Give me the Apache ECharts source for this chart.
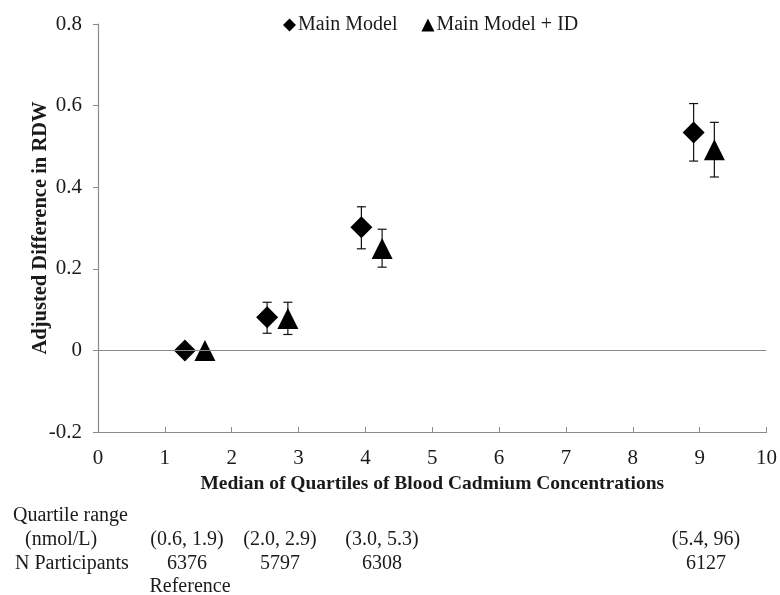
<!DOCTYPE html>
<html>
<head>
<meta charset="utf-8">
<script src="https://cdn.jsdelivr.net/npm/echarts@6/dist/echarts.min.js"></script>
<style>html,body{margin:0;padding:0;background:#fff}#c{width:780px;height:595px}</style>
</head>
<body>
<div id="c"></div>
<script>
// Data
const mainX = [1.30, 2.53, 3.94, 8.91];
const mainY = [0.0, 0.081, 0.302, 0.534];
const mainLo = [null, 0.042, 0.249, 0.464];
const mainHi = [null, 0.118, 0.352, 0.605];
const idX = [1.60, 2.84, 4.25, 9.22];
const idY = [0.0, 0.078, 0.250, 0.492];
const idLo = [null, 0.039, 0.204, 0.425];
const idHi = [null, 0.118, 0.297, 0.559];
const seriesNames = ['Main Model', 'Main Model + ID'];
const rowLabels = ['Quartile range', '(nmol/L)', 'N Participants'];
const rangeLabels = ['(0.6, 1.9)', '(2.0, 2.9)', '(3.0, 5.3)', '(5.4, 96)'];
const nLabels = ['6376', '5797', '6308', '6127'];
const refLabel = 'Reference';

const FONT = 'Liberation Serif';
const TXT = '#1a1a1a';
const chart = echarts.init(document.getElementById('c'));

function errData(xs, lo, hi) {
  const d = [];
  xs.forEach((x, i) => { if (lo[i] != null) d.push([x, lo[i], hi[i]]); });
  return d;
}
function errRender(params, api) {
  const x = api.value(0);
  const lo = api.coord([x, api.value(1)]);
  const hi = api.coord([x, api.value(2)]);
  const w = 4.5;
  const st = { stroke: '#111', lineWidth: 1.2 };
  return { type: 'group', children: [
    { type: 'line', shape: { x1: lo[0], y1: lo[1], x2: hi[0], y2: hi[1] }, style: st },
    { type: 'line', shape: { x1: lo[0] - w, y1: lo[1], x2: lo[0] + w, y2: lo[1] }, style: st },
    { type: 'line', shape: { x1: hi[0] - w, y1: hi[1], x2: hi[0] + w, y2: hi[1] }, style: st }
  ]};
}

const labelCenters = [187, 280, 382, 706];
const rowY = [516, 540, 564];
const rowLeft = [13, 25, 15];
const graphics = [];
const f = '20px ' + FONT;
rowLabels.forEach((t, i) => {
  graphics.push({ type: 'text', x: rowLeft[i], y: rowY[i], style: { text: t, font: f, fill: TXT, textAlign: 'left', textVerticalAlign: 'middle' } });
});
rangeLabels.forEach((t, i) => {
  graphics.push({ type: 'text', x: labelCenters[i], y: rowY[1], style: { text: t, font: f, fill: TXT, textAlign: 'center', textVerticalAlign: 'middle' } });
});
nLabels.forEach((t, i) => {
  graphics.push({ type: 'text', x: labelCenters[i], y: rowY[2], style: { text: t, font: f, fill: TXT, textAlign: 'center', textVerticalAlign: 'middle' } });
});
graphics.push({ type: 'text', x: 190, y: 587, style: { text: refLabel, font: f, fill: TXT, textAlign: 'center', textVerticalAlign: 'middle' } });

chart.setOption({
  animation: false,
  backgroundColor: '#fff',
  grid: { left: 98, right: 12, top: 24, bottom: 163, containLabel: false },
  legend: {
    top: 10, left: 278,
    itemWidth: 13, itemHeight: 13, itemGap: 24,
    textStyle: { fontFamily: FONT, fontSize: 20, color: TXT, padding: [0, 0, 0, -3] },
    data: [{ name: seriesNames[0], icon: 'diamond' }, { name: seriesNames[1], icon: 'triangle' }]
  },
  xAxis: {
    type: 'value', min: 0, max: 10, interval: 1,
    name: 'Median of Quartiles of Blood Cadmium Concentrations',
    nameLocation: 'middle', nameGap: 40,
    nameTextStyle: { fontFamily: FONT, fontSize: 19.5, fontWeight: 'bold', color: TXT },
    axisLine: { onZero: false, lineStyle: { color: '#8a8a8a', width: 1.2 } },
    axisTick: { inside: true, length: 5, lineStyle: { color: '#8a8a8a' } },
    axisLabel: { fontFamily: FONT, fontSize: 21, color: TXT, margin: 16 },
    splitLine: { show: false }
  },
  yAxis: {
    type: 'value', min: -0.2, max: 0.8, interval: 0.2,
    name: 'Adjusted Difference in RDW',
    nameLocation: 'middle', nameGap: 47, nameRotate: 90, nameMoveOverlap: false,
    nameTextStyle: { fontFamily: FONT, fontSize: 20.5, fontWeight: 'bold', color: TXT },
    axisLine: { show: true, onZero: false, lineStyle: { color: '#8a8a8a', width: 1.2 } },
    axisTick: { show: true, length: 5, lineStyle: { color: '#8a8a8a' } },
    axisLabel: { fontFamily: FONT, fontSize: 21, color: TXT, margin: 16,
      formatter: v => { const r = Math.round(v * 10) / 10; return r === 0 ? '0' : r.toFixed(1); } },
    splitLine: { show: false }
  },
  graphic: graphics,
  series: [
    {
      name: seriesNames[0], type: 'scatter', symbol: 'diamond', symbolSize: 22,
      itemStyle: { color: '#000', opacity: 1 }, z: 3,
      data: mainX.map((x, i) => [x, mainY[i]]),
      markLine: { silent: true, symbol: 'none', label: { show: false },
        lineStyle: { color: '#8a8a8a', width: 1.2, type: 'solid' }, data: [{ yAxis: 0 }] }
    },
    {
      name: seriesNames[1], type: 'scatter', symbol: 'triangle', symbolSize: 21,
      itemStyle: { color: '#000', opacity: 1 }, z: 3,
      data: idX.map((x, i) => [x, idY[i]])
    },
    { type: 'custom', renderItem: errRender, data: errData(mainX, mainLo, mainHi), z: 2, silent: true },
    { type: 'custom', renderItem: errRender, data: errData(idX, idLo, idHi), z: 2, silent: true }
  ]
});
</script>
</body>
</html>
